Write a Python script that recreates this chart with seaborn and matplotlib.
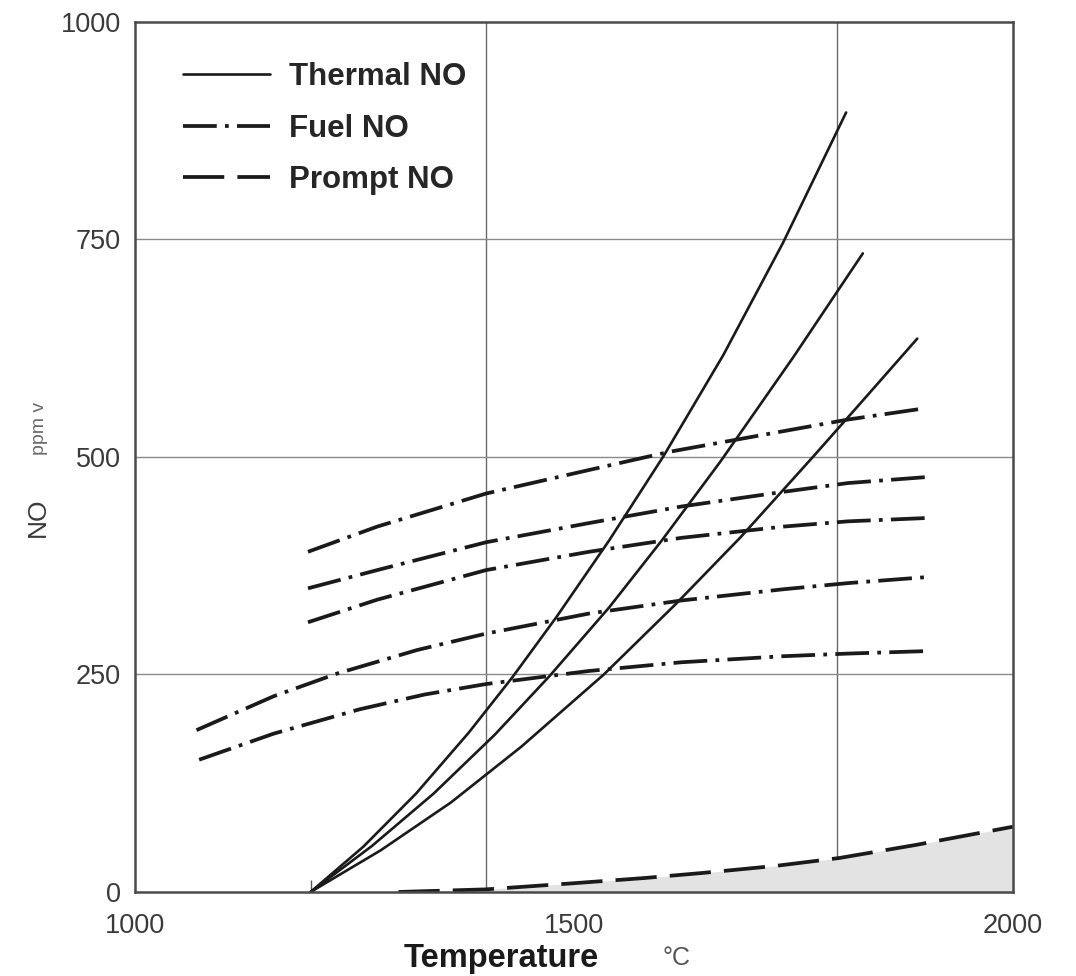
import numpy as np
import pandas as pd
import seaborn as sns
import matplotlib.pyplot as plt

# thermal NO curves (solid)
thermal_1_t = [1200, 1260, 1320, 1380, 1430, 1480, 1540, 1602, 1670, 1738, 1810]
thermal_1_no = [0, 52, 113, 183, 247, 316, 404, 501, 617, 746, 896]
thermal_2_t = [1200, 1270, 1340, 1410, 1472, 1540, 1600, 1667, 1750, 1829]
thermal_2_no = [0, 53, 113, 181, 248, 327, 404, 495, 615, 734]
thermal_3_t = [1200, 1280, 1360, 1440, 1534, 1615, 1690, 1773, 1830, 1891]
thermal_3_no = [0, 48, 103, 167, 250, 330, 408, 501, 566, 636]

# fuel NO curves (dash-dot)
fuel_1_t = [1197, 1276, 1400, 1517, 1609, 1713, 1812, 1900]
fuel_1_no = [391, 420, 458, 485, 506, 525, 543, 556]
fuel_2_t = [1197, 1276, 1400, 1517, 1622, 1739, 1812, 1903]
fuel_2_no = [349, 370, 402, 424, 443, 460, 470, 477]
fuel_3_t = [1197, 1276, 1400, 1517, 1622, 1739, 1812, 1906]
fuel_3_no = [310, 336, 370, 391, 407, 420, 426, 430]
fuel_4_t = [1070, 1158, 1230, 1321, 1400, 1517, 1622, 1739, 1812, 1903]
fuel_4_no = [186, 225, 251, 278, 297, 320, 335, 348, 355, 362]
fuel_5_t = [1073, 1158, 1256, 1330, 1400, 1517, 1622, 1739, 1812, 1906]
fuel_5_no = [152, 182, 210, 227, 239, 254, 264, 271, 274, 277]

# prompt NO (dashed, shaded below)
prompt_t = [1300, 1400, 1499, 1580, 1648, 1730, 1802, 1889, 2000]
prompt_no = [0, 3, 10, 16, 22, 30, 39, 54, 75]

x_ticks = [1000, 1500, 2000]
y_ticks = [0, 250, 500, 750, 1000]
x_grid = [1400, 1800]
y_grid = [250, 500, 750]

sns.set_style("white")
plt.rcParams['font.family'] = ['Liberation Sans', 'DejaVu Sans']

fig = plt.figure(figsize=(10.76, 9.76), dpi=100)
ax = fig.add_axes([0.1255, 0.0861, 0.8159, 0.8914])

ax.fill_between(prompt_t, prompt_no, color='#e3e3e3', lw=0, zorder=1)
for g in x_grid:
    ax.axvline(g, color='#6a6a6a', lw=1.0, zorder=0)
for g in y_grid:
    ax.axhline(g, color='#8a8a8a', lw=1.0, zorder=0)

solid = dict(color='#1a1a1a', linewidth=1.9)
dashdot = dict(color='#1a1a1a', linewidth=2.7, linestyle=(0, (9, 2.2, 1, 2.2)))
dashed = dict(color='#1a1a1a', linewidth=2.7, linestyle=(0, (11, 3.5)))

thermal = [(thermal_1_t, thermal_1_no), (thermal_2_t, thermal_2_no), (thermal_3_t, thermal_3_no)]
fuel = [(fuel_1_t, fuel_1_no), (fuel_2_t, fuel_2_no), (fuel_3_t, fuel_3_no),
        (fuel_4_t, fuel_4_no), (fuel_5_t, fuel_5_no)]

for i, (t, no) in enumerate(thermal):
    sns.lineplot(x=t, y=no, ax=ax, label='Thermal NO' if i == 0 else None, **solid)
for i, (t, no) in enumerate(fuel):
    sns.lineplot(x=t, y=no, ax=ax, label='Fuel NO' if i == 0 else None, **dashdot)
sns.lineplot(x=prompt_t, y=prompt_no, ax=ax, label='Prompt NO', **dashed)

ax.set_xlim(1000, 2000)
ax.set_ylim(0, 1000)
ax.set_xticks(x_ticks)
ax.set_yticks(y_ticks)
ax.set_xticks([1200, 1500], minor=True)
ax.tick_params(axis='both', which='major', length=0, labelsize=19.5, labelcolor='#3a3a3a')
ax.tick_params(axis='x', which='major', pad=15)
ax.tick_params(axis='y', which='major', pad=10)
ax.tick_params(axis='x', which='minor', direction='in', length=9, width=1.0, color='#555555', bottom=True)
ax.set_xlabel('')
ax.set_ylabel('')
for side in ['left', 'right', 'top', 'bottom']:
    ax.spines[side].set_visible(True)
    ax.spines[side].set_color('#4a4a4a')
    ax.spines[side].set_linewidth(1.8)

ax.legend(loc='upper left', bbox_to_anchor=(0.0225, 0.986), frameon=False,
          handlelength=2.8, handletextpad=0.58, labelspacing=0.68,
          prop={'weight': 'bold', 'size': 22.5})

fig.text(38 / 1076, 1 - 517 / 976, 'NO', rotation=90, fontsize=19, color='#3a3a3a',
         ha='center', va='center')
fig.text(40 / 1076, 1 - 428 / 976, 'ppm v', rotation=90, fontsize=14, color='#6a6a6a',
         ha='center', va='center')
fig.text(501 / 1076, 1 - 958 / 976, 'Temperature', fontsize=23.5, fontweight='bold',
         color='#1a1a1a', ha='center', va='center')
fig.text(676 / 1076, 1 - 958 / 976, '°C', fontsize=18, color='#555555',
         ha='center', va='center')

fig.savefig('out.png', dpi=100)
